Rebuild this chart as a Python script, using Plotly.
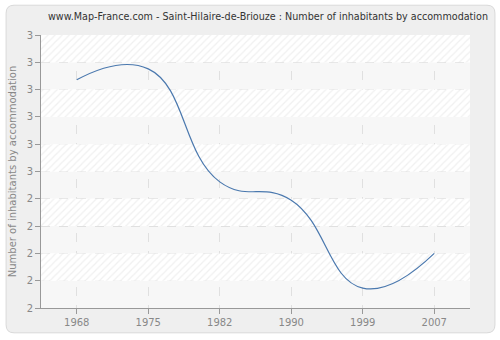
import plotly.graph_objects as go

years = ["1968", "1975", "1982", "1990", "1999", "2007"]
values = [2.836, 2.876, 2.462, 2.395, 2.073, 2.200]
y_tick_vals = [2.0, 2.1, 2.2, 2.3, 2.4, 2.5, 2.6, 2.7, 2.8, 2.9, 3.0]
y_tick_text = ["2", "2", "2", "2", "2", "3", "3", "3", "3", "3", "3"]

title = "www.Map-France.com - Saint-Hilaire-de-Briouze : Number of inhabitants by accommodation"

x_pos = list(range(len(years)))
x_lo, x_hi = -0.5, len(years) - 0.5

W, H = 500, 340
L, R, T, B = 40, 30, 35, 30
pw, ph = W - L - R, H - T - B

def px(x):
    return (x - L) / pw

def py(y):
    return (H - B - y) / ph

fig = go.Figure()

shapes = []
for i in range(len(y_tick_vals) - 1):
    y0, y1 = y_tick_vals[i], y_tick_vals[i + 1]
    if i % 2 == 0:
        shapes.append(dict(type="rect", xref="x", yref="y", x0=x_lo, x1=x_hi, y0=y0, y1=y1,
                           fillcolor="#f7f7f7", line_width=0, layer="below"))
    else:
        fig.add_trace(go.Scatter(x=[x_lo, x_hi, x_hi, x_lo, x_lo], y=[y0, y0, y1, y1, y0],
                                 mode="none", fill="toself", fillcolor="white",
                                 fillpattern=dict(shape="/", fgcolor="#e2e2e2", bgcolor="white",
                                                  size=5, solidity=0.25),
                                 hoverinfo="skip", showlegend=False))

fig.add_trace(go.Scatter(x=x_pos, y=values, mode="lines",
                         line=dict(color="#4a78ae", width=1.2, shape="spline", smoothing=1.3),
                         showlegend=False))

r = 8
x0, x1, y0, y1 = 5, 495, 5, 335
path = (f"M {px(x0 + r)} {py(y0)} L {px(x1 - r)} {py(y0)} Q {px(x1)} {py(y0)} {px(x1)} {py(y0 + r)} "
        f"L {px(x1)} {py(y1 - r)} Q {px(x1)} {py(y1)} {px(x1 - r)} {py(y1)} "
        f"L {px(x0 + r)} {py(y1)} Q {px(x0)} {py(y1)} {px(x0)} {py(y1 - r)} "
        f"L {px(x0)} {py(y0 + r)} Q {px(x0)} {py(y0)} {px(x0 + r)} {py(y0)} Z")
shapes.insert(0, dict(type="path", xref="paper", yref="paper", path=path,
                      fillcolor="#efefef", line=dict(color="#d9d9d9", width=1), layer="below"))
shapes.insert(1, dict(type="rect", xref="paper", yref="paper", x0=0, x1=1, y0=0, y1=1,
                      fillcolor="white", line_width=0, layer="below"))

fig.update_layout(
    width=W, height=H,
    margin=dict(l=L, r=R, t=T, b=B),
    paper_bgcolor="white",
    plot_bgcolor="rgba(0,0,0,0)",
    shapes=shapes,
    title=dict(text=title, x=268 / W, xref="container", xanchor="center",
               y=1 - 17 / H, yref="container", yanchor="middle",
               font=dict(family="DejaVu Sans", size=9.6, color="#333333")),
    font=dict(family="DejaVu Sans", size=10, color="#888888"),
    xaxis=dict(range=[x_lo, x_hi], tickvals=x_pos, ticktext=years, showgrid=True,
               gridcolor="#e0e0e0", griddash="dash", gridwidth=1, showline=True,
               linecolor="#999999", linewidth=1, ticks="outside", ticklen=5,
               tickcolor="#999999", zeroline=False, tickfont=dict(size=10, color="#888888")),
    yaxis=dict(range=[2.0, 3.0], tickvals=y_tick_vals, ticktext=y_tick_text,
               showgrid=True, gridcolor="#e0e0e0", griddash="dash", gridwidth=1,
               showline=True, linecolor="#999999", linewidth=1, ticks="outside", ticklen=5,
               tickcolor="#999999", zeroline=False, tickfont=dict(size=10, color="#888888"),
               title=dict(text="Number of inhabitants by accommodation", standoff=8,
                          font=dict(size=10, color="#888888"))),
)

fig.write_html("out.html")
